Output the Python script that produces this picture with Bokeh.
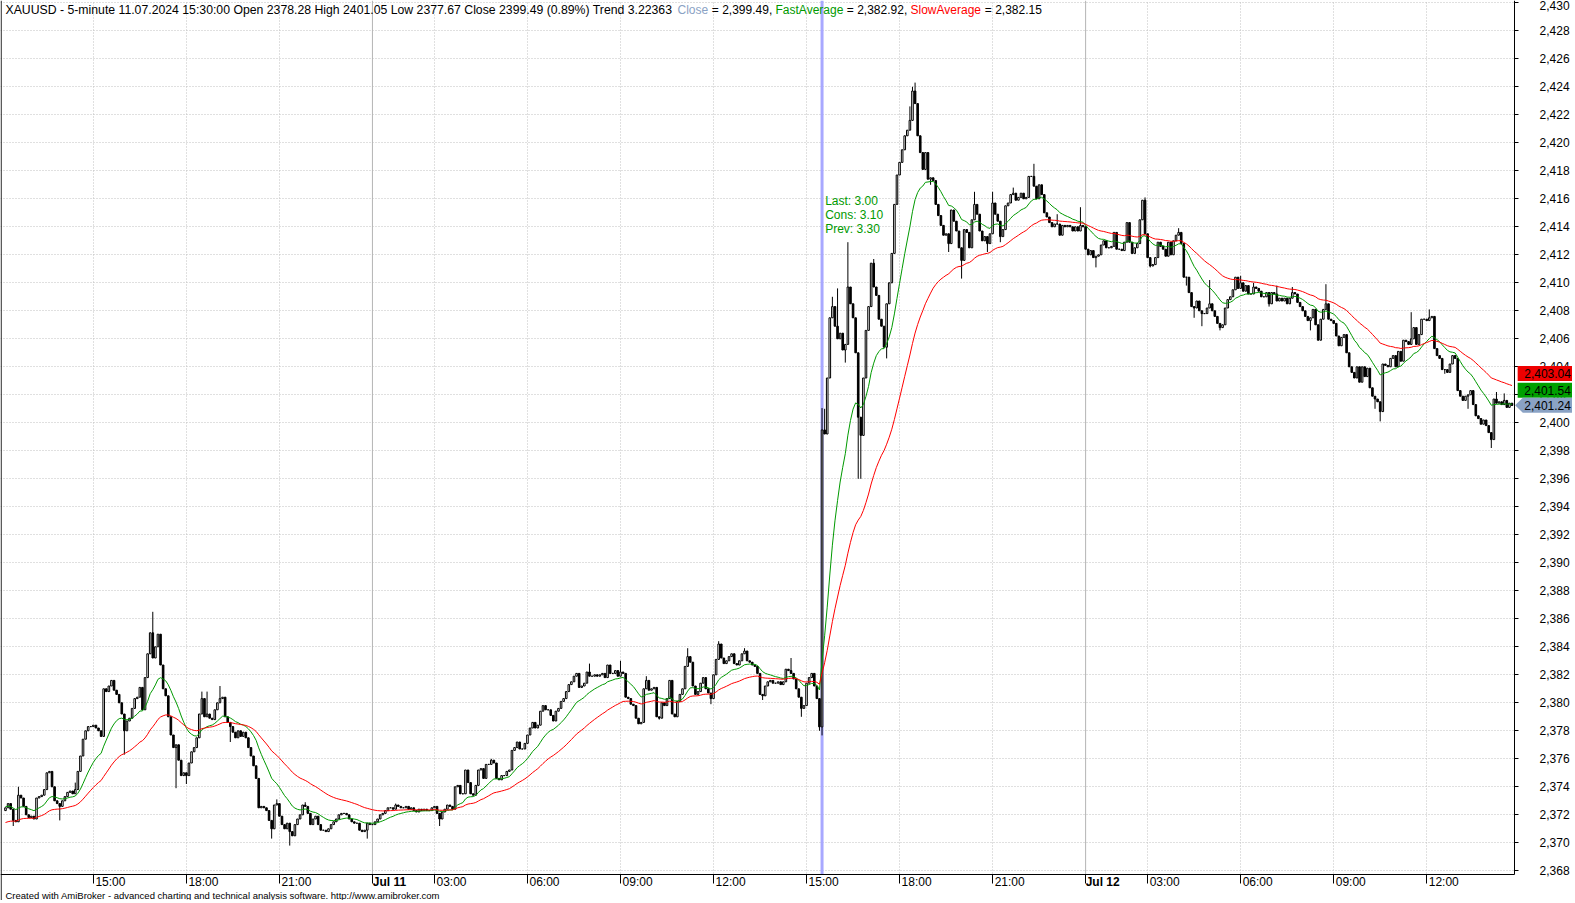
from bokeh.plotting import figure
from bokeh.models import (Range1d, FixedTicker, NumeralTickFormatter, Span, Label,
                          ColumnDataSource)
from bokeh.core.properties import value
from bokeh.embed import file_html
from bokeh.resources import INLINE

# ---------------- data (5-minute XAUUSD bars) ----------------
close = [
    2372.5, 2372.8, 2372.4, 2371.6, 2371.5, 2373.4, 2373.2, 2372.6, 2372.0, 2371.8,
    2371.9, 2371.7, 2373.2, 2373.3, 2373.4, 2373.8, 2375.0, 2375.1, 2374.0, 2373.0,
    2372.8, 2372.6, 2373.0, 2373.3, 2373.6, 2373.7, 2373.5, 2373.8, 2375.1, 2376.2,
    2377.4, 2378.0, 2378.3, 2378.3, 2378.4, 2378.2, 2378.0, 2377.6, 2381.0, 2380.8,
    2381.2, 2381.6, 2380.9, 2380.6, 2380.0, 2379.2, 2378.0, 2378.7, 2378.9, 2379.6,
    2380.3, 2380.4, 2381.1, 2379.5, 2381.8, 2383.5, 2385.0, 2383.2, 2384.0, 2384.9,
    2382.7, 2381.0, 2380.5, 2379.0, 2377.7, 2376.8, 2377.0, 2375.9, 2374.8, 2375.0,
    2374.8, 2375.7, 2376.5, 2376.8, 2377.5, 2379.2, 2380.3, 2379.0, 2379.2, 2378.9,
    2378.8, 2379.5, 2380.0, 2380.3, 2380.4, 2379.0, 2378.6, 2378.3, 2377.9, 2377.5,
    2378.0, 2377.6, 2377.9, 2377.5, 2376.8, 2376.2, 2375.5, 2374.6, 2372.5, 2372.6,
    2372.5, 2372.3, 2371.6, 2371.0, 2372.7, 2372.8, 2371.9, 2371.3, 2371.0, 2371.4,
    2370.8, 2370.5, 2371.3, 2371.7, 2372.0, 2372.7, 2372.6, 2372.1, 2371.3, 2371.7,
    2371.9, 2371.3, 2370.9, 2370.9, 2370.8, 2371.0, 2371.3, 2371.5, 2371.7, 2372.0,
    2372.1, 2372.1, 2372.0, 2371.7, 2371.5, 2371.4, 2371.4, 2370.9, 2370.8, 2370.9,
    2371.4, 2371.3, 2371.3, 2371.5, 2371.7, 2372.0, 2372.1, 2372.3, 2372.5, 2372.5,
    2372.4, 2372.7, 2372.6, 2372.5, 2372.5, 2372.6, 2372.4, 2372.5, 2372.3, 2372.2,
    2372.4, 2372.3, 2372.4, 2372.3, 2372.3, 2372.5, 2372.6, 2372.1, 2371.7, 2372.2,
    2372.4, 2372.7, 2372.6, 2372.4, 2374.0, 2374.1, 2373.5, 2373.5, 2375.2, 2374.3,
    2373.5, 2373.4, 2374.1, 2375.2, 2375.3, 2374.6, 2375.6, 2375.6, 2375.9, 2375.7,
    2374.6, 2374.5, 2374.8, 2374.8, 2375.1, 2375.2, 2376.6, 2376.8, 2377.2, 2376.7,
    2376.7, 2377.1, 2377.7, 2378.2, 2378.6, 2378.2, 2378.4, 2379.4, 2379.8, 2379.5,
    2379.5, 2379.1, 2378.7, 2379.4, 2379.6, 2380.1, 2380.3, 2380.8, 2381.3, 2381.5,
    2381.9, 2382.1, 2381.1, 2381.2, 2381.4, 2382.2, 2381.9, 2381.9, 2382.0, 2381.9,
    2382.0, 2382.1, 2381.8, 2382.7, 2382.1, 2382.1, 2382.3, 2381.9, 2382.2, 2382.1,
    2380.4, 2380.3, 2379.9, 2379.8, 2378.9, 2378.5, 2378.6, 2381.0, 2381.6, 2380.9,
    2381.0, 2381.1, 2379.0, 2378.9, 2380.0, 2379.8, 2380.3, 2381.6, 2379.2, 2379.0,
    2380.1, 2380.6, 2381.0, 2382.6, 2383.3, 2382.9, 2381.2, 2380.6, 2380.8, 2381.4,
    2381.8, 2381.0, 2380.7, 2380.3, 2382.0, 2383.1, 2384.2, 2383.2, 2382.8, 2383.0,
    2383.3, 2383.5, 2382.8, 2382.7, 2383.0, 2383.5, 2383.7, 2383.0, 2382.9, 2382.7,
    2382.6, 2382.1, 2380.6, 2380.5, 2381.2, 2381.5, 2381.6, 2381.4, 2381.4, 2381.5,
    2381.3, 2381.5, 2382.4, 2382.3, 2382.1, 2381.7, 2381.0, 2380.4, 2379.6, 2379.8,
    2381.4, 2381.8, 2382.1, 2381.2, 2380.3, 2378.28, 2399.49, 2399.2, 2403.2, 2407.5,
    2408.3, 2406.9, 2406.0, 2406.4, 2405.2, 2405.6, 2409.7, 2408.5, 2407.5, 2405.0,
    2400.4, 2399.1, 2403.2, 2406.6, 2408.3, 2411.4, 2409.7, 2409.1, 2407.4, 2406.9,
    2405.4, 2408.5, 2410.0, 2412.1, 2415.6, 2417.7, 2418.6, 2419.5, 2420.5, 2420.9,
    2421.6, 2423.7, 2422.8, 2420.5, 2419.3, 2418.1, 2419.3, 2417.4, 2417.5, 2417.3,
    2415.6, 2414.8, 2414.1, 2413.4, 2413.5, 2412.8, 2415.2, 2414.4, 2413.7, 2412.5,
    2411.6, 2413.8, 2413.6, 2412.5, 2414.5, 2415.6, 2414.9, 2413.7, 2413.0, 2413.3,
    2412.8, 2413.5, 2415.7, 2414.9, 2414.4, 2413.3, 2413.8, 2415.5, 2415.7, 2416.3,
    2416.4, 2415.9, 2416.1, 2416.4, 2416.0, 2416.1, 2417.6, 2417.6, 2416.9, 2416.0,
    2417.0, 2416.3, 2415.0, 2414.7, 2414.3, 2414.0, 2414.2, 2414.2, 2413.4, 2414.1,
    2414.0, 2414.1, 2414.0, 2413.7, 2414.0, 2413.7, 2414.1, 2414.0, 2412.4, 2412.0,
    2412.3, 2411.8, 2411.9, 2412.0, 2412.7, 2413.0, 2412.5, 2412.5, 2412.6, 2413.6,
    2412.4, 2412.4, 2412.3, 2412.9, 2414.3, 2412.9, 2412.1, 2412.5, 2412.8, 2414.5,
    2415.9, 2413.5, 2411.8, 2411.2, 2411.3, 2411.8, 2412.9, 2412.6, 2412.4, 2411.9,
    2412.9, 2412.0, 2413.0, 2413.4, 2413.6, 2412.8, 2410.4, 2410.4, 2409.3, 2408.3,
    2408.2, 2408.7, 2408.0, 2407.8, 2407.8, 2408.2, 2408.5, 2408.0, 2407.6, 2407.1,
    2406.8, 2407.0, 2408.2, 2408.8, 2409.0, 2409.5, 2410.4, 2409.6, 2410.0, 2409.4,
    2409.8, 2409.2, 2409.2, 2409.7, 2409.6, 2409.4, 2409.0, 2409.0, 2409.3, 2408.5,
    2409.3, 2409.2, 2408.7, 2408.9, 2408.7, 2408.9, 2408.5, 2408.9, 2409.3, 2409.2,
    2408.6, 2408.3, 2408.0, 2407.6, 2407.3, 2407.5, 2408.1, 2407.0, 2405.9, 2407.4,
    2408.1, 2408.5, 2407.4, 2407.3, 2407.1, 2406.2, 2405.5, 2406.1, 2406.3, 2405.0,
    2404.0, 2403.6, 2403.2, 2404.0, 2402.9, 2404.0, 2403.3, 2403.9, 2402.5, 2401.9,
    2401.7, 2401.5, 2400.8, 2404.2, 2404.1, 2404.0, 2404.6, 2404.8, 2404.0, 2405.1,
    2404.4, 2405.9, 2405.8, 2405.6, 2406.0, 2406.8, 2405.6, 2406.3, 2407.4, 2407.4,
    2407.3, 2407.5, 2407.6, 2405.3, 2404.8, 2404.6, 2403.8, 2403.8, 2403.6, 2404.2,
    2404.8, 2404.6, 2402.3, 2401.9, 2401.6, 2401.9, 2402.0, 2402.3, 2401.3, 2400.5,
    2400.3, 2399.9, 2400.2, 2399.8, 2399.3, 2398.8, 2401.7, 2401.4, 2401.5, 2401.3,
    2401.6, 2401.1, 2401.4, 2401.24,
]
first_open = 2372.3
selected_bar = 316            # 11.07.2024 15:30
selected_open = 2378.28

# notable wick extremes (bar index -> price)
wick_high = {5: 2374.0, 27: 2374.3, 57: 2386.5, 76: 2380.8, 78: 2380.8, 83: 2381.2,
             105: 2373.1, 116: 2372.9, 151: 2372.8, 188: 2376.0, 226: 2382.8, 238: 2383.0,
             248: 2381.9, 264: 2383.9, 276: 2384.4, 286: 2383.9, 304: 2383.2, 316: 2401.05,
             317: 2401.0, 320: 2409.0, 322: 2409.6, 326: 2412.9, 336: 2411.7, 350: 2422.6,
             351: 2424.0, 352: 2424.3, 375: 2416.5, 382: 2416.5, 390: 2416.8, 398: 2418.5,
             407: 2414.9, 416: 2415.4, 441: 2416.1, 454: 2413.9, 466: 2410.2, 478: 2410.5,
             483: 2410.0, 492: 2409.8, 498: 2409.7, 511: 2409.9, 544: 2407.9, 551: 2408.1,
             577: 2402.2, 580: 2402.1}
wick_low = {3: 2371.2, 21: 2371.6, 46: 2376.3, 66: 2373.9, 70: 2374.2, 87: 2377.2,
            103: 2370.3, 110: 2369.8, 140: 2370.3, 168: 2371.2, 253: 2378.8, 273: 2379.9,
            293: 2380.2, 308: 2379.0, 315: 2378.0, 316: 2377.67, 325: 2404.3, 330: 2396.0,
            331: 2396.0, 341: 2404.6, 358: 2417.0, 365: 2412.2, 370: 2410.3, 380: 2412.2,
            385: 2412.9, 422: 2411.1, 443: 2411.1, 457: 2409.8, 460: 2407.5, 463: 2406.9,
            470: 2406.6, 489: 2408.3, 505: 2406.6, 530: 2401.0, 532: 2400.1, 557: 2403.5,
            566: 2401.0, 575: 2398.2}

fast_period, slow_period = 17, 45
fast_start, slow_start = 2372.6, 2371.4

# time axis: bar index of each labelled tick
tick_bars = [34, 70, 106, 142, 166, 202, 238, 274, 310, 346, 382, 418, 442, 478, 514, 550]
tick_labels = ["15:00", "18:00", "21:00", "Jul 11", "03:00", "06:00", "09:00", "12:00",
               "15:00", "18:00", "21:00", "Jul 12", "03:00", "06:00", "09:00", "12:00"]
day_bars = [142, 418]

# last-value markers on the price scale (slow, fast, close)
last_labels = ["2,403.04", "2,401.54", "2,401.24"]
last_colors = ["#ee0000", "#00a000", "#8aa2c4"]
last_text_colors = ["black", "black", "black"]

# ---------------- derived series ----------------
n = len(close)
idx = list(range(n))
open_ = [first_open] + close[:-1]
open_[selected_bar] = selected_open
high = [max(open_[i], close[i], wick_high.get(i, -1e9)) for i in idx]
low = [min(open_[i], close[i], wick_low.get(i, 1e9)) for i in idx]


def ema(vals, period, start):
    k = 2.0 / (period + 1)
    e, out = start, []
    for v in vals:
        e = e + k * (v - e)
        out.append(e)
    return out


fast = ema(close, fast_period, fast_start)
slow = ema(close, slow_period, slow_start)

FONT = "Liberation Sans"
NB = "\u00a0"

# ---------------- layout constants (page pixels) ----------------
W, H = 1572, 900
BAR_PX = 2.584            # pixels per bar
BAR0_X = 5.0              # page x of the first bar
PX_PER_UNIT = 14.0        # pixels per price unit
Y_REF, Y_REF_PX = 2400.0, 422.3
X0 = -BAR0_X / BAR_PX
X1 = (W - BAR0_X) / BAR_PX
Y_TOP = Y_REF + Y_REF_PX / PX_PER_UNIT
Y_BOT = Y_REF - (H - Y_REF_PX) / PX_PER_UNIT
AXIS_X = 584.0            # price scale sits just right of the last bar
AXIS_Y = 2367.74          # time axis level

p = figure(frame_width=W, frame_height=H, min_border_left=0, min_border_right=0,
           min_border_top=0, min_border_bottom=0,
           x_range=Range1d(X0, X1), y_range=Range1d(Y_BOT, Y_TOP),
           y_axis_location="right", toolbar_location=None, output_backend="svg",
           background_fill_color="white", border_fill_color="white",
           outline_line_color=None)

# ---- axes (placed inside the frame) ----
label_pos = [round(t + 6.6, 2) for t in tick_bars]
xax = p.xaxis[0]
xax.fixed_location = AXIS_Y
xax.bounds = (X0, AXIS_X)
xax.ticker = FixedTicker(ticks=label_pos, minor_ticks=tick_bars)
overrides = {}
for pos, lab in zip(label_pos, tick_labels):
    overrides[pos] = "" if lab.startswith("Jul") else lab
xax.major_label_overrides = overrides
xax.major_tick_line_color = None
xax.major_tick_out = 0
xax.major_tick_in = 0
xax.minor_tick_out = 9
xax.minor_tick_in = 0
xax.minor_tick_line_color = "black"
xax.major_label_standoff = -8
xax.major_label_text_font = FONT
xax.major_label_text_font_size = "12px"
xax.major_label_text_color = "black"
xax.axis_line_color = "black"

price_ticks = list(range(2368, 2431, 2))
yax = p.yaxis[0]
yax.fixed_location = AXIS_X
yax.bounds = (AXIS_Y, 2431)
yax.ticker = FixedTicker(ticks=price_ticks)
yax.formatter = NumeralTickFormatter(format="0,0")
yax.major_tick_out = 4
yax.major_tick_in = 0
yax.minor_tick_line_color = None
yax.major_label_standoff = 21
yax.major_label_text_font = FONT
yax.major_label_text_font_size = "12px"
yax.major_label_text_color = "black"
yax.axis_line_color = "black"

# ---- grid ----
p.xgrid.ticker = FixedTicker(ticks=[t for t in tick_bars if t not in day_bars])
p.xgrid.grid_line_color = "#c0c0c0"
p.xgrid.grid_line_dash = "1 2"
p.ygrid.ticker = FixedTicker(ticks=price_ticks)
p.ygrid.grid_line_color = "#c0c0c0"
p.ygrid.grid_line_dash = "1 2"
for d in day_bars:
    p.add_layout(Span(location=d, dimension="height", line_color="#b4b4b4",
                      line_width=1, level="underlay"))
p.add_layout(Span(location=selected_bar, dimension="height", line_color="#a8a8ff",
                  line_width=3, level="underlay"))

# white margins (price-scale column and time-label strip)
p.quad(left=[AXIS_X, X0], right=[X1, AXIS_X], bottom=[Y_BOT, Y_BOT], top=[Y_TOP, AXIS_Y],
       fill_color="white", line_color=None)
p.add_layout(Span(location=X0 + 0.25, dimension="height", line_color="black", line_width=1))

# ---- candles ----
src = ColumnDataSource(dict(
    x=idx, h=high, l=low,
    top=[max(o, c) for o, c in zip(open_, close)],
    bottom=[min(o, c) for o, c in zip(open_, close)],
    fill=["white" if c >= o else "black" for o, c in zip(open_, close)],
))
p.segment(x0="x", y0="h", x1="x", y1="l", source=src, line_color="black", line_width=1)
p.vbar(x="x", top="top", bottom="bottom", width=0.62, source=src,
       fill_color="fill", line_color="black", line_width=1)

# ---- averages ----
p.line(idx, fast, line_color="#009900", line_width=1)
p.line(idx, slow, line_color="#ff0000", line_width=1)

# ---- calendar note ----
p.text(x=[selected_bar + 1.2] * 3, y=[2415.84, 2414.84, 2413.84],
       text=["Last: 3.00", "Cons: 3.10", "Prev: 3.30"],
       text_font=value(FONT), text_font_size="12px", text_color="#009900",
       text_baseline="middle", text_align="left")

# ---- header line ----
header = [
    ("XAUUSD - 5-minute 11.07.2024 15:30:00 Open 2378.28 High 2401.05 Low 2377.67 "
     "Close 2399.49 (0.89%) Trend 3.22363", "black", 5, "12.25px"),
    ("Close", "#8aa2c4", 677, "12px"),
    (NB + "=" + NB + "2,399.49,", "black", 708, "12px"),
    ("FastAverage", "#009900", 775, "12px"),
    (NB + "=" + NB + "2,382.92,", "black", 843, "12px"),
    ("SlowAverage", "#ff0000", 910, "12px"),
    (NB + "=" + NB + "2,382.15", "black", 981, "12px"),
]
for txt, col, xs, fs in header:
    p.add_layout(Label(x=xs, y=H - 2, x_units="screen", y_units="screen", text=txt,
                       text_color=col, text_font=FONT, text_font_size=fs,
                       text_baseline="top", text_align="left"))

# ---- bold day labels on the time axis ----
label_top = H - (Y_TOP - AXIS_Y) * PX_PER_UNIT - 1
for pos, lab in zip(label_pos, tick_labels):
    if lab.startswith("Jul"):
        p.add_layout(Label(x=pos, y=label_top, x_units="data", y_units="screen", text=lab,
                           text_font=FONT, text_font_size="12px", text_font_style="bold",
                           text_color="black", text_align="center", text_baseline="top"))

# ---- last value boxes on the price scale ----
box_y = [2403.52, 2402.33, 2401.25]
half = 7.5 / PX_PER_UNIT
rb = p.quad(left=[AXIS_X + 1.2] * 2, right=[X1] * 2,
            bottom=[box_y[0] - half, box_y[1] - half], top=[box_y[0] + half, box_y[1] + half],
            fill_color=last_colors[:2], line_color=None)
rb.level = "overlay"
tip = AXIS_X + 0.2
rp = p.patch(x=[tip, tip + 3.0, X1, X1, tip + 3.0],
             y=[box_y[2], box_y[2] + half, box_y[2] + half, box_y[2] - half, box_y[2] - half],
             fill_color=last_colors[2], line_color=None)
rp.level = "overlay"
rt = p.text(x=[X1 - 0.6] * 3, y=box_y, text=last_labels,
            text_color=last_text_colors, text_font=value(FONT), text_font_size="12px",
            text_align="right", text_baseline="middle")
rt.level = "overlay"

# ---- footer ----
p.add_layout(Label(x=5, y=0, x_units="screen", y_units="screen",
                   text="Created with AmiBroker - advanced charting and technical analysis "
                        "software. http://www.amibroker.com",
                   text_font=FONT, text_font_size="9.5px", text_color="black",
                   text_baseline="bottom", text_align="left"))

open("out.html", "w").write(file_html(p, INLINE))
